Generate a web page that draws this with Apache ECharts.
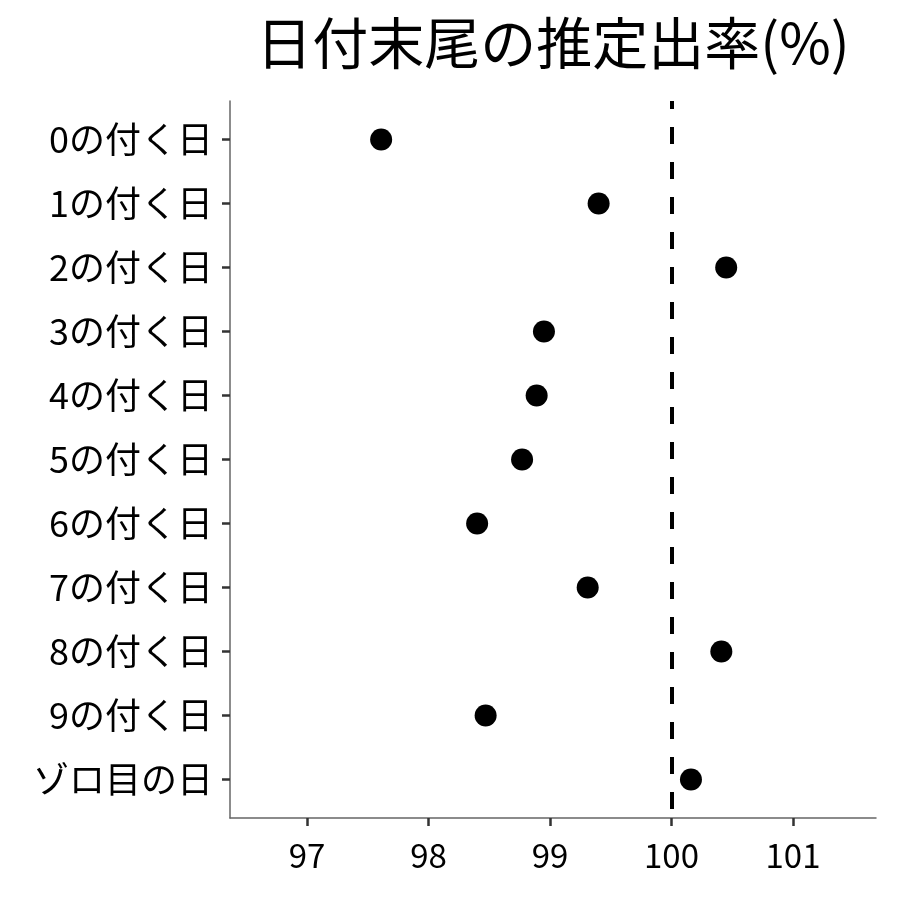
<!DOCTYPE html>
<html>
<head>
<meta charset="utf-8">
<script src="https://cdn.jsdelivr.net/npm/echarts@6/dist/echarts.min.js"></script>
<style>
  html, body { margin: 0; padding: 0; background: #fff; }
  #chart { width: 900px; height: 900px; }
</style>
</head>
<body>
<div id="chart"></div>
<script>
// カテゴリ（上から順）
var categories = ['0の付く日', '1の付く日', '2の付く日', '3の付く日', '4の付く日',
  '5の付く日', '6の付く日', '7の付く日', '8の付く日', '9の付く日', 'ゾロ目の日'];
// 推定出率(%)
var rates = [97.61, 99.40, 100.45, 98.95, 98.89, 98.77, 98.40, 99.31, 100.41, 98.47, 100.16];
var xTicks = [97, 98, 99, 100, 101];
var refLine = 100;

var font = 'Noto Sans CJK JP';
var chart = echarts.init(document.getElementById('chart'));

var points = rates.map(function (v, i) { return [v, i]; });
var yTicks = categories.map(function (c, i) { return i; });

var option = {
  backgroundColor: '#fff',
  animation: false,
  title: {
    text: '日付末尾の推定出率(%)',
    left: 548,
    textAlign: 'center',
    top: 10,
    textStyle: { fontFamily: font, fontSize: 56, fontWeight: 'normal', color: '#000' }
  },
  grid: { left: 230, right: 24, top: 101, bottom: 82 },
  xAxis: {
    type: 'value',
    min: 96.366,
    max: 101.683,
    axisLine: { show: true, onZero: false, lineStyle: { color: '#666', width: 1.5 } },
    axisTick: { show: true, length: 8, customValues: xTicks, lineStyle: { color: '#333', width: 2.5 } },
    axisLabel: {
      customValues: xTicks, margin: 21,
      fontFamily: font, fontSize: 33, color: '#000'
    },
    splitLine: { show: false }
  },
  yAxis: {
    type: 'value',
    inverse: true,
    min: -0.6,
    max: 10.6,
    axisLine: { show: true, onZero: false, lineStyle: { color: '#666', width: 1.5 } },
    axisTick: {
      show: true, length: 8,
      customValues: yTicks,
      lineStyle: { color: '#333', width: 2.5 }
    },
    axisLabel: {
      customValues: yTicks,
      formatter: function (v) { return categories[Math.round(v)]; },
      margin: 17, fontFamily: font, fontSize: 36, color: '#000'
    },
    splitLine: { show: false }
  },
  series: [{
    type: 'scatter',
    data: points,
    symbolSize: 22,
    itemStyle: { color: '#000', opacity: 1 },
    markLine: {
      silent: true,
      symbol: 'none',
      label: { show: false },
      lineStyle: { color: '#000', width: 4, type: [17, 18], dashOffset: 9, opacity: 1 },
      data: [{ xAxis: refLine }]
    }
  }]
};

chart.setOption(option);
</script>
</body>
</html>
